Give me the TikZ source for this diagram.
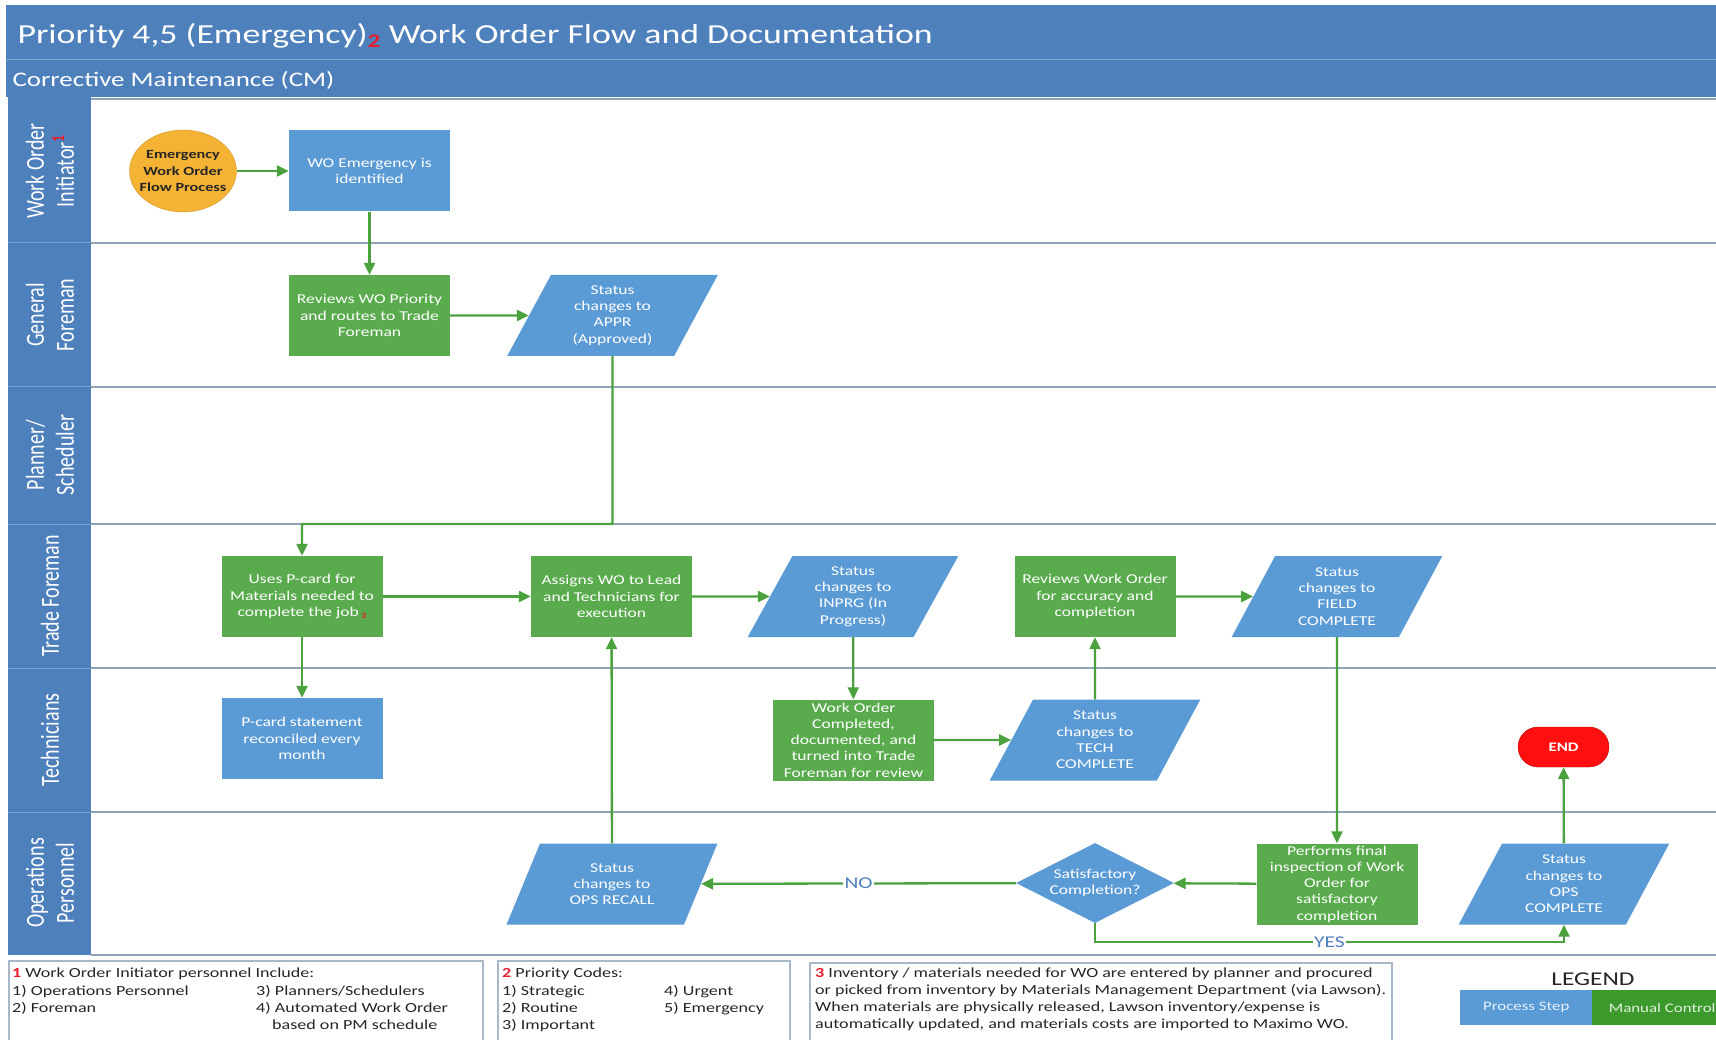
\documentclass[tikz,border=0pt]{standalone}
\usepackage{fontspec}
\setmainfont{Carlito}[FakeStretch=1.3]
\newfontfamily\lanefont{Carlito}
\usepackage{tikz}
\usetikzlibrary{positioning}
\usetikzlibrary{shapes.geometric}
\usetikzlibrary{arrows.meta}

\definecolor{bandblue}{HTML}{4E80BC}
\definecolor{stepblue}{HTML}{5B9BD5}
\definecolor{ctrlgreen}{HTML}{5AAB4E}
\definecolor{legendgreen}{HTML}{3C9A2D}
\definecolor{flowgreen}{HTML}{4BA13E}
\definecolor{laneline}{HTML}{8FA2B6}
\definecolor{noteline}{HTML}{A9B8C9}
\definecolor{startorange}{HTML}{F5B335}
\definecolor{endred}{HTML}{FF0F0F}
\definecolor{mark}{HTML}{E3202C}
\definecolor{answer}{HTML}{4F7FBA}

\begin{document}
\begin{tikzpicture}[x=1pt,y=-1pt]
        \useasboundingbox (0,0) rectangle (1716,1040);
        \clip (0,0) rectangle (1716,1040);
        \fill[white] (0,0) rectangle (1716,1040);

        \fill[bandblue] (6,5) rectangle (1716,97);
        \draw[bandblue!70!white, line width=1pt] (6,60) -- (1716,60);
        \node[anchor=west, text=white, font=\fontsize{27.5}{32}\selectfont] (title) at (14,36)
            {Priority 4,5 (Emergency)\textsubscript{\color{mark}\bfseries 2} Work Order Flow and Documentation};
        \node[anchor=west, text=white, font=\fontsize{20.7}{24}\selectfont] (subtitle) at (9,80)
            {Corrective Maintenance (CM)};

        \fill[bandblue] (8,97) rectangle (91,955);
        \foreach \y in {243,387,524,668,812}
            \draw[bandblue!75!white, line width=1pt] (8,\y) -- (91,\y);
        \foreach \y in {99,243,387,524,668,812,955}
            \draw[laneline, line width=2pt] (91,\y) -- (1716,\y);

        \begin{scope}[every node/.style={rotate=90, yscale=1.3, transform shape, text=white,
                align=center, font=\lanefont\fontsize{20}{23}\selectfont}]
            \node (initiator) at (50,171) {Work Order\\Initiator\textsuperscript{\color{mark}\bfseries 1}};
            \node (general) at (50,315) {General\\Foreman};
            \node (planner) at (50,455) {Planner/\\Scheduler};
            \node (trade) at (50,596) {Trade Foreman};
            \node (techs) at (50,740) {Technicians};
            \node (ops) at (50,883) {Operations\\Personnel};
        \end{scope}

        \begin{scope}[every node/.style={align=center, text=white, inner xsep=3pt, inner ysep=0pt,
                font=\fontsize{13.5}{16.3}\selectfont},
            stepbox/.style={rectangle, fill=stepblue, minimum width=161pt, minimum height=81pt},
            ctrlbox/.style={rectangle, fill=ctrlgreen, minimum width=161pt, minimum height=81pt},
            statusbox/.style={trapezium, trapezium left angle=63, trapezium right angle=117,
                trapezium stretches=true, fill=stepblue, minimum width=211pt, minimum height=81pt}]
            \node[ellipse, fill=startorange, draw=startorange!85!black, text=black!85,
                minimum width=107pt, minimum height=82pt, inner xsep=-10pt, inner ysep=0pt,
                font=\fontsize{12.5}{16.5}\selectfont\bfseries] (start) at (183,171)
                {Emergency\\Work Order\\Flow Process};
            \node[stepbox] (woid) at (369.5,171) {WO Emergency is\\identified};
            \node[ctrlbox] (revprio) at (369.5,315.5) {Reviews WO Priority\\and routes to Trade\\Foreman};
            \node[statusbox] (appr) at (612.5,315.5) {Status\\changes to\\APPR\\(Approved)};
            \node[ctrlbox] (pcard) at (302,596.5) {Uses P-card for\\Materials needed to\\complete the job\,\raisebox{-2pt}{\color{mark}\fontsize{8}{8}\selectfont\bfseries 3}};
            \node[ctrlbox] (assign) at (611.5,596.5) {Assigns WO to Lead\\and Technicians for\\execution};
            \node[statusbox] (inprg) at (853,596.5) {Status\\changes to\\INPRG (In\\Progress)};
            \node[ctrlbox] (revwo) at (1095,596.5) {Reviews Work Order\\for accuracy and\\completion};
            \node[statusbox] (field) at (1337,596.5) {Status\\changes to\\FIELD\\COMPLETE};
            \node[stepbox] (pstmt) at (302,738.5) {P-card statement\\reconciled every\\month};
            \node[ctrlbox] (wodone) at (853.5,740) {Work Order\\Completed,\\documented, and\\turned into Trade\\Foreman for review};
            \node[statusbox] (tech) at (1095,740) {Status\\changes to\\TECH\\COMPLETE};
            \node[rectangle, rounded corners=20pt, fill=endred, draw=endred!70!black,
                minimum width=91pt, minimum height=40pt, font=\fontsize{13}{15}\selectfont\bfseries] (finish) at (1563.5,747) {END};
            \node[statusbox] (recall) at (612,884) {Status\\changes to\\OPS RECALL};
            \node[diamond, aspect=2, fill=stepblue, inner sep=0pt,
                minimum width=158pt, minimum height=80pt] (satis) at (1095,883) {Satisfactory\\Completion?};
            \node[ctrlbox] (inspect) at (1337,884) {Performs final\\inspection of Work\\Order for\\satisfactory\\completion};
            \node[statusbox] (opsdone) at (1564,884) {Status\\changes to\\OPS\\COMPLETE};
        \end{scope}

        \coordinate (apprdrop) at (612.5,524);
        \coordinate (yesdrop) at (1095,942);
        \begin{scope}[>={Triangle[length=12pt,width=11pt]},
            every node/.style={fill=white, text=answer, inner sep=1.5pt, font=\fontsize{16.5}{18}\selectfont},
            every edge/.style={draw=flowgreen, line width=2.3pt},
            link/.style={draw=flowgreen, line width=2.3pt}]
            \path [->] (start) edge (woid);
            \path [->] (woid) edge (revprio);
            \path [->] (revprio) edge (appr);
            \draw [->, link] (appr) -- (apprdrop) -| (pcard);
            \path [->] (pcard) edge (assign);
            \path [->] (pcard) edge (pstmt);
            \path [->] (assign) edge (inprg);
            \path [->] (inprg) edge (wodone);
            \path [->] (wodone) edge (tech);
            \path [->] (tech) edge (revwo);
            \path [->] (revwo) edge (field);
            \path [->] (field) edge (inspect);
            \path [->] (inspect) edge (satis);
            \path [->] (satis) edge node {NO} (recall);
            \path [->] (recall) edge (assign);
            \draw [->, link] (satis) -- (yesdrop) -| node[pos=0.25] {YES} (opsdone);
            \path [->] (opsdone) edge (finish);
        \end{scope}

        \draw[noteline, line width=1.5pt] (9,961) rectangle (483,1050);
        \draw[noteline, line width=1.5pt] (498,961) rectangle (790,1050);
        \draw[noteline, line width=1.5pt] (810,963) rectangle (1392,1050);
        \begin{scope}[every node/.style={anchor=north west, text=black!85, align=left, inner sep=0pt,
                font=\fontsize{13.9}{16.9}\selectfont}]
            \node (initnote) at (12,968) {{\color{mark}\bfseries 1} Work Order Initiator personnel Include:};
            \node (inita) at (12,985) {1) Operations Personnel\\2) Foreman};
            \node (initb) at (256,985) {3) Planners/Schedulers\\4) Automated Work Order\\\hspace{16pt}based on PM schedule};
            \node (codenote) at (502,968) {{\color{mark}\bfseries 2} Priority Codes:};
            \node (codea) at (502,985) {1) Strategic\\2) Routine\\3) Important};
            \node (codeb) at (664,985) {4) Urgent\\5) Emergency};
            \node (invnote) at (815,968)
                {{\color{mark}\bfseries 3} Inventory / materials needed for WO are entered by planner and procured\\
                 or picked from inventory by Materials Management Department (via Lawson).\\
                 When materials are physically released, Lawson inventory/expense is\\
                 automatically updated, and materials costs are imported to Maximo WO.};
        \end{scope}

        \node[text=black!85, font=\fontsize{19.5}{22}\selectfont] (legend) at (1593,979) {LEGEND};
        \begin{scope}[every node/.style={anchor=north west, minimum height=35pt, inner sep=0pt,
                text=white!85!stepblue, font=\fontsize{13}{15}\selectfont}]
            \node[fill=stepblue, minimum width=132pt] (legstep) at (1460,990) {Process Step};
            \node[fill=legendgreen, minimum width=140pt, text=white!85!legendgreen] (legctrl) at (1592,990) {Manual Control};
        \end{scope}
\end{tikzpicture}
\end{document}
